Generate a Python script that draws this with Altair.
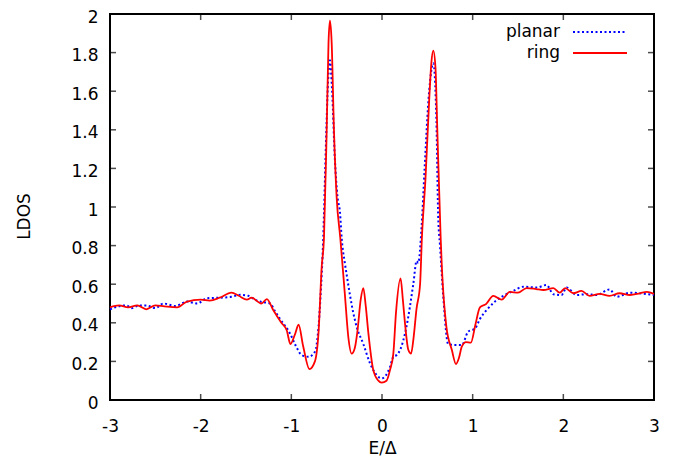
import altair as alt
import pandas as pd

ring_E = [-3.00, -2.90, -2.80, -2.70, -2.60, -2.50, -2.40, -2.26, -2.15, -2.00, -1.90, -1.79, -1.66, -1.58,
          -1.49, -1.44, -1.33, -1.27, -1.20, -1.11, -1.05, -1.01, -0.96, -0.92, -0.87, -0.80, -0.74, -0.70,
          -0.665, -0.64, -0.61, -0.59, -0.574, -0.555, -0.53, -0.50, -0.46, -0.41, -0.37, -0.335, -0.30,
          -0.27, -0.235, -0.206, -0.18, -0.15, -0.096, -0.04, -0.004, 0.05, 0.088, 0.125, 0.154, 0.205,
          0.23, 0.253, 0.29, 0.32, 0.35, 0.38, 0.42, 0.44, 0.48, 0.52, 0.545, 0.566, 0.59, 0.61, 0.647,
          0.66, 0.71, 0.77, 0.816, 0.85, 0.88, 0.926, 0.98, 1.03, 1.08, 1.147, 1.227, 1.32, 1.41, 1.50,
          1.595, 1.70, 1.78, 1.89, 1.96, 2.02, 2.11, 2.20, 2.29, 2.40, 2.51, 2.62, 2.735, 2.845, 2.92, 3.00]
ring_L = [0.48, 0.49, 0.48, 0.49, 0.47, 0.49, 0.485, 0.48, 0.51, 0.52, 0.515, 0.53, 0.556, 0.54,
          0.52, 0.53, 0.50, 0.523, 0.466, 0.40, 0.36, 0.29, 0.34, 0.39, 0.28, 0.16, 0.20, 0.35,
          0.69, 0.84, 1.40, 1.85, 1.965, 1.85, 1.40, 1.05, 0.84, 0.55, 0.32, 0.24, 0.27,
          0.36, 0.52, 0.58, 0.49, 0.345, 0.155, 0.10, 0.09, 0.10, 0.155, 0.24, 0.45, 0.63,
          0.52, 0.40, 0.26, 0.24, 0.33, 0.47, 0.60, 0.84, 1.15, 1.55, 1.75, 1.81, 1.72, 1.40, 0.84,
          0.69, 0.38, 0.26, 0.186, 0.22, 0.276, 0.30, 0.297, 0.39, 0.48, 0.497, 0.54, 0.52, 0.56, 0.556,
          0.58, 0.575, 0.57, 0.58, 0.556, 0.58, 0.553, 0.565, 0.54, 0.55, 0.54, 0.553, 0.544, 0.553, 0.56, 0.55]

planar_E = [-3.00, -2.91, -2.82, -2.76, -2.68, -2.60, -2.50, -2.41, -2.28, -2.15, -2.04, -1.93, -1.79,
            -1.66, -1.56, -1.475, -1.40, -1.345, -1.235, -1.18, -1.125, -1.015, -0.95, -0.886, -0.81,
            -0.74, -0.70, -0.68, -0.648, -0.62, -0.595, -0.574, -0.55, -0.52, -0.49, -0.463, -0.445,
            -0.41, -0.39, -0.316, -0.28, -0.206, -0.132, -0.096, -0.004, 0.088, 0.125, 0.162, 0.20,
            0.27, 0.345, 0.382, 0.40, 0.437, 0.47, 0.52, 0.566, 0.60, 0.62, 0.64, 0.676, 0.73, 0.80,
            0.88, 0.95, 1.026, 1.08, 1.154, 1.246, 1.356, 1.45, 1.56, 1.706, 1.815, 1.89, 1.98, 2.036,
            2.146, 2.257, 2.367, 2.51, 2.588, 2.735, 2.845, 3.00]
planar_L = [0.47, 0.485, 0.49, 0.476, 0.49, 0.49, 0.476, 0.50, 0.487, 0.51, 0.50, 0.527, 0.53,
            0.535, 0.545, 0.54, 0.52, 0.51, 0.50, 0.46, 0.42, 0.345, 0.28, 0.233, 0.224,
            0.25, 0.38, 0.52, 0.84, 1.30, 1.65, 1.76, 1.60, 1.25, 1.05, 0.97, 0.84,
            0.71, 0.65, 0.45, 0.38, 0.29, 0.19, 0.155, 0.112, 0.17, 0.224, 0.233, 0.26,
            0.38, 0.60, 0.72, 0.71, 0.90, 1.20, 1.60, 1.745, 1.45, 0.95, 0.80, 0.535, 0.29, 0.285,
            0.285, 0.354, 0.37, 0.42, 0.466, 0.51, 0.544, 0.566, 0.587, 0.583, 0.596, 0.548, 0.544, 0.583,
            0.544, 0.548, 0.544, 0.573, 0.535, 0.556, 0.553, 0.544]

x_ticks = [-3, -2, -1, 0, 1, 2, 3]
y_ticks = [0, 0.2, 0.4, 0.6, 0.8, 1, 1.2, 1.4, 1.6, 1.8, 2]
legend_labels = ["planar", "ring"]

FONT = "DejaVu Sans"
FS = 17
W, H = 544, 386

ring_df = pd.DataFrame({"E": ring_E, "L": ring_L})
planar_df = pd.DataFrame({"E": planar_E, "L": planar_L})
xt_df = pd.DataFrame({"E": x_ticks})
yt_df = pd.DataFrame({"L": y_ticks})

xscale = alt.Scale(domain=[-3, 3], nice=False, zero=False)
yscale = alt.Scale(domain=[0, 2], nice=False)

x_axis = alt.Axis(values=x_ticks, labelExpr="toString(datum.value)", ticks=False, domain=False,
                  grid=False, labelFlush=False, labelPadding=18, labelFontSize=FS, labelFont=FONT,
                  labelColor="black",
                  title="E/Δ", titleFont=FONT, titleFontSize=FS, titleFontWeight="normal",
                  titlePadding=6, titleColor="black")
y_axis = alt.Axis(values=y_ticks, labelExpr="toString(datum.value)", ticks=False, domain=False,
                  grid=False, labelFlush=False, labelPadding=12, labelOffset=3, labelFontSize=FS,
                  labelFont=FONT, labelColor="black",
                  title="LDOS", titleFont=FONT, titleFontSize=FS, titleFontWeight="normal",
                  titleColor="black", titleX=-86, titleY=202, titleAngle=270,
                  titleAlign="center", titleBaseline="middle")

X = alt.X("E:Q", scale=xscale, axis=x_axis)
Y = alt.Y("L:Q", scale=yscale, axis=y_axis)

planar = alt.Chart(planar_df).mark_line(color="#0000ff", strokeWidth=2, strokeDash=[2, 2.5],
                                        interpolate="monotone").encode(x=X, y=Y)
ring = alt.Chart(ring_df).mark_line(color="#ff0000", strokeWidth=1.8,
                                    interpolate="monotone").encode(x=X, y=Y)

tk = dict(color="black", thickness=1.5, size=6)
xt_bottom = alt.Chart(xt_df).mark_tick(orient="vertical", yOffset=-3, **tk).encode(
    x=X, y=alt.YDatum(0, scale=yscale, axis=y_axis))
xt_top = alt.Chart(xt_df).mark_tick(orient="vertical", yOffset=3, **tk).encode(
    x=X, y=alt.YDatum(2, scale=yscale, axis=y_axis))
yt_left = alt.Chart(yt_df).mark_tick(orient="horizontal", xOffset=3, **tk).encode(
    y=Y, x=alt.XDatum(-3, scale=xscale, axis=x_axis))
yt_right = alt.Chart(yt_df).mark_tick(orient="horizontal", xOffset=-3, **tk).encode(
    y=Y, x=alt.XDatum(3, scale=xscale, axis=x_axis))

leg_txt_style = dict(font=FONT, fontSize=FS, align="right", baseline="middle", color="black")
leg1_t = alt.Chart(pd.DataFrame({"s": [legend_labels[0]]})).mark_text(**leg_txt_style).encode(
    text="s:N", x=alt.value(450), y=alt.value(18))
leg2_t = alt.Chart(pd.DataFrame({"s": [legend_labels[1]]})).mark_text(**leg_txt_style).encode(
    text="s:N", x=alt.value(450), y=alt.value(39))
leg1_l = alt.Chart(pd.DataFrame({"s": [legend_labels[0]]})).mark_rule(
    color="#0000ff", strokeWidth=2, strokeDash=[2, 2.5]).encode(
    x=alt.value(463), x2=alt.value(517), y=alt.value(18))
leg2_l = alt.Chart(pd.DataFrame({"s": [legend_labels[1]]})).mark_rule(
    color="#ff0000", strokeWidth=1.8).encode(
    x=alt.value(463), x2=alt.value(517), y=alt.value(39))

chart = alt.layer(planar, ring, xt_bottom, xt_top, yt_left, yt_right,
                  leg1_t, leg2_t, leg1_l, leg2_l).properties(
    width=W, height=H,
    autosize=alt.AutoSizeParams(type="none"),
    padding={"left": 102, "top": 6, "right": 13, "bottom": 62},
    background="white",
).configure_view(stroke="black", strokeWidth=2)

chart.save("out.html", embed_options={"renderer": "svg", "actions": False})
